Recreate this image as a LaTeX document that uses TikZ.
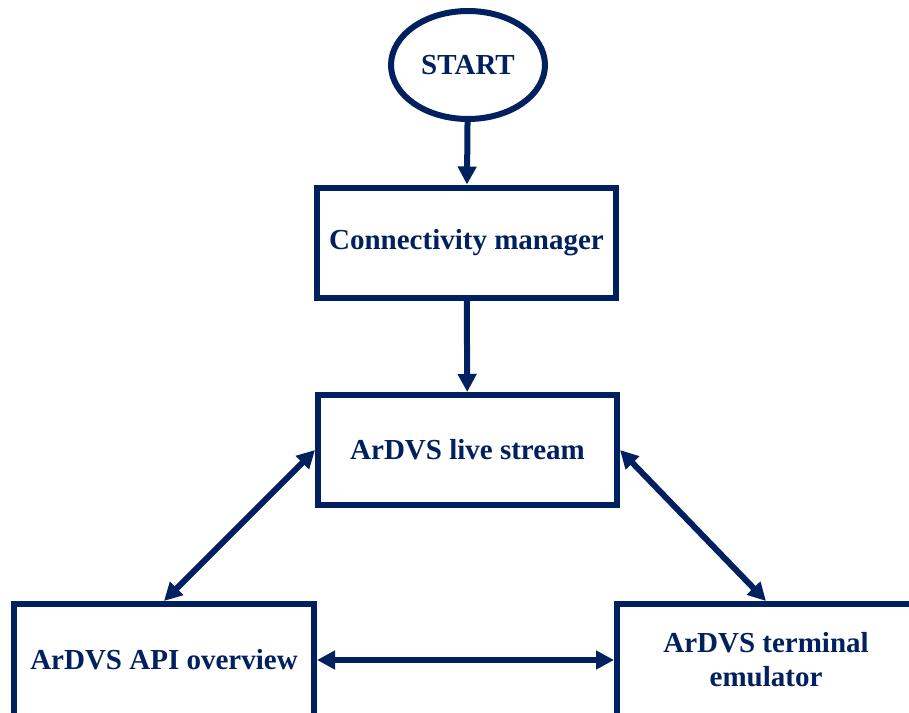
\documentclass[tikz,border=0pt]{standalone}
\usepackage{fontspec}
\setmainfont{Liberation Serif}
\usetikzlibrary{shapes.geometric,arrows.meta}
\definecolor{navy}{RGB}{0,32,96}
\tikzset{
  base/.style={draw=navy, line width=6pt, text=navy, inner sep=0pt,
    font=\bfseries\fontsize{29}{34}\selectfont, align=center},
  procbox/.style={base, rectangle, minimum width=299pt, minimum height=110pt},
  terminator/.style={base, ellipse, minimum width=154pt, minimum height=108pt},
  flow/.style={draw=navy, line width=6pt, -{Triangle[length=18pt,width=18pt]}},
  twoway/.style={draw=navy, line width=6pt, {Triangle[length=18pt,width=18pt]}-{Triangle[length=18pt,width=18pt]}}
}
\begin{document}
\begin{tikzpicture}[x=1pt,y=-1pt]
  \useasboundingbox (0,0) rectangle (909,712);
  \clip (0,0) rectangle (909,712);
  \fill[white] (0,0) rectangle (909,712);

  \node[terminator] (start) at (468,65) {START};
  \node[procbox] (conn) at (466.5,242.5) {Connectivity manager};
  \node[procbox] (live) at (467.5,450) {ArDVS live stream};
  \node[procbox, minimum width=300pt, minimum height=112pt] (api) at (164,660) {ArDVS API overview};
  \node[procbox, minimum width=298pt, minimum height=112pt] (term) at (766,660) {ArDVS terminal\\emulator};

  \draw[flow] (start) -- (conn);
  \draw[flow] (conn) -- (live);
  \draw[twoway] (live.west) -- (api.north);
  \draw[twoway] (live.east) -- (term.north);
  \draw[twoway] (api.east) -- (term.west);
\end{tikzpicture}
\end{document}
